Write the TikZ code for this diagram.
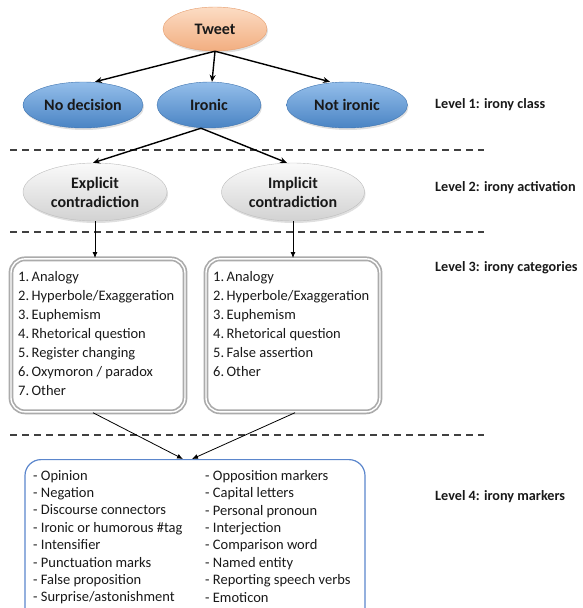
\documentclass[tikz,border=0pt]{standalone}
\usepackage{fontspec}
\setmainfont{Carlito}
\usetikzlibrary{arrows.meta,shapes.geometric,shadows}

\definecolor{tweettop}{HTML}{FCDCC4}
\definecolor{tweetbot}{HTML}{F2AE80}
\definecolor{tweetline}{HTML}{E59D6E}
\definecolor{classtop}{HTML}{94BEEA}
\definecolor{classbot}{HTML}{4A84C4}
\definecolor{classline}{HTML}{3F74B0}
\definecolor{acttop}{HTML}{FAFAFA}
\definecolor{actbot}{HTML}{D2D2D2}
\definecolor{actline}{HTML}{BDBDBD}
\definecolor{catline}{HTML}{ABABAB}
\definecolor{markline}{HTML}{5B86CC}
\definecolor{sepline}{HTML}{404040}

\begin{document}
\begin{tikzpicture}[x=1pt,y=-1pt,
  every node/.style={text=black!90,font=\fontsize{14.5}{17}\selectfont},
  oval/.style={ellipse,draw=#1line,top color=#1top,bottom color=#1bot,
    inner sep=0pt,font=\bfseries\fontsize{16}{19}\selectfont,align=center,
    drop shadow={opacity=.25,shadow xshift=1pt,shadow yshift=-2pt}},
  catbox/.style={draw=catline,line width=1.7pt,double=white,double distance=1.4pt,
    rounded corners=14pt,minimum width=174pt,minimum height=153pt,anchor=north},
  itemlist/.style={anchor=north west,align=left,inner sep=0pt},
  levellabel/.style={anchor=west,inner sep=0pt,font=\bfseries\fontsize{14.2}{17}\selectfont},
  bigarrow/.style={line width=1.4pt,-{Stealth[length=7pt,width=6pt]}},
  smallarrow/.style={line width=.8pt,-{Latex[length=6pt,width=5pt]}}
]
  \clip (0,0) rectangle (582,608);

  % separators between the levels
  \foreach \y in {150,232,435}
    \draw[sepline,line width=1.8pt,dash pattern=on 7pt off 5pt] (10,\y) -- (484,\y);

  % level 1
  \node[oval=tweet,minimum width=104pt,minimum height=44pt] (tweet) at (215,29) {Tweet};
  \node[oval=class,minimum width=120pt,minimum height=46pt] (nodec) at (83,105) {No decision};
  \node[oval=class,minimum width=104pt,minimum height=46pt] (ironic) at (209,105) {Ironic};
  \node[oval=class,minimum width=121pt,minimum height=46pt] (notironic) at (347,105) {Not ironic};
  \draw[bigarrow] (tweet.south) -- ([xshift=12pt]nodec.north);
  \draw[bigarrow] (tweet.south) -- ([xshift=3pt]ironic.north);
  \draw[bigarrow] (tweet.south) -- ([xshift=-17pt]notironic.north);
  \node[levellabel] (lvlone) at (435,105) {Level 1: irony class};

  % level 2
  \node[oval=act,minimum width=144pt,minimum height=58pt] (explicit) at (95,192) {Explicit\\contradiction};
  \node[oval=act,minimum width=143pt,minimum height=58pt] (implicit) at (293,192) {Implicit\\contradiction};
  \draw[bigarrow] ([xshift=-8pt]ironic.south) -- ([xshift=-2pt]explicit.north);
  \draw[bigarrow] ([xshift=-8pt]ironic.south) -- ([xshift=-6pt]implicit.north);
  \node[levellabel] (lvltwo) at (435,188) {Level 2: irony activation};

  % level 3
  \node[catbox] (expbox) at (98,258) {};
  \node[catbox] (impbox) at (293,258) {};
  \draw[smallarrow] (explicit.south) -- (explicit.south |- expbox.north);
  \draw[smallarrow] (implicit.south) -- (implicit.south |- impbox.north);
  \node[itemlist,font=\fontsize{14.5}{19}\selectfont] (explist) at (18,271)
    {1.\,Analogy\\2.\,Hyperbole/Exaggeration\\3.\,Euphemism\\4.\,Rhetorical question\\
     5.\,Register changing\\6.\,Oxymoron / paradox\\7.\,Other};
  \node[itemlist,font=\fontsize{14.5}{19}\selectfont] (implist) at (213,271)
    {1.\,Analogy\\2.\,Hyperbole/Exaggeration\\3.\,Euphemism\\4.\,Rhetorical question\\
     5.\,False assertion\\6.\,Other};
  \node[levellabel] (lvlthree) at (435,268) {Level 3: irony categories};

  % level 4
  \node[draw=markline,line width=1.2pt,rounded corners=16pt,minimum width=340pt,
    minimum height=200pt,anchor=north] (markers) at (195,459) {};
  \draw[smallarrow] ([xshift=-5pt]expbox.south) -- ([xshift=-12pt]markers.north);
  \draw[smallarrow] ([xshift=2pt]impbox.south) -- ([xshift=-3pt]markers.north);
  \node[itemlist,font=\fontsize{14.5}{17.4}\selectfont] (markleft) at (33,470)
    {- Opinion\\- Negation\\- Discourse connectors\\- Ironic or humorous \#tag\\
     - Intensifier\\- Punctuation marks\\- False proposition\\- Surprise/astonishment};
  \node[itemlist,font=\fontsize{14.5}{17.4}\selectfont] (markright) at (205,470)
    {- Opposition markers\\- Capital letters\\- Personal pronoun\\- Interjection\\
     - Comparison word\\- Named entity\\- Reporting speech verbs\\- Emoticon};
  \node[levellabel] (lvlfour) at (435,497) {Level 4: irony markers};
\end{tikzpicture}
\end{document}
